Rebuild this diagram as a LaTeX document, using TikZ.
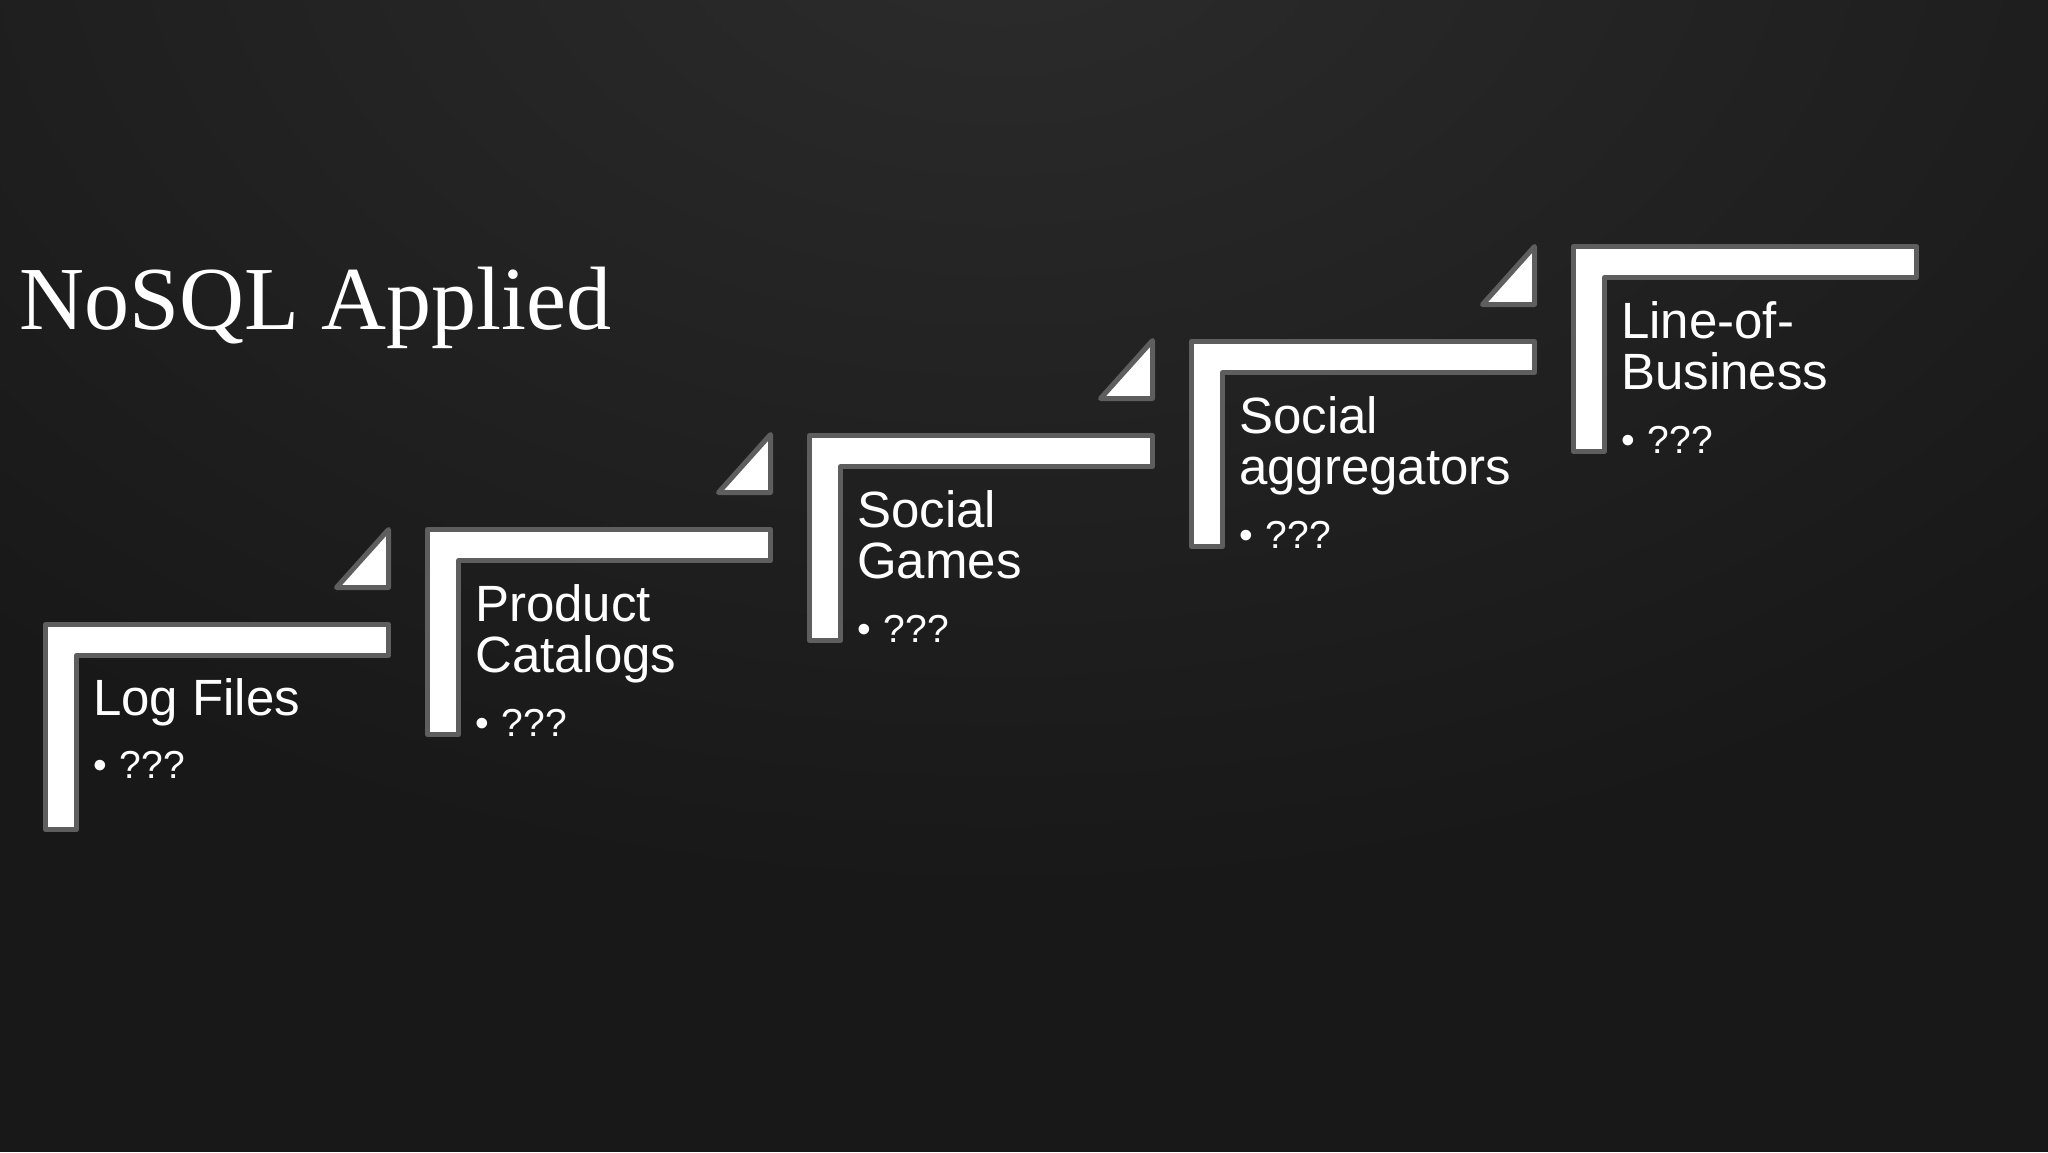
\documentclass[tikz,border=0pt]{standalone}
\usepackage{fontspec}
\setmainfont{Liberation Sans}
\newfontfamily\titlefont{Liberation Serif}
\definecolor{board}{HTML}{181818}
\definecolor{boardlight}{HTML}{2C2C2C}
\definecolor{edgegrey}{HTML}{5E5E5E}

\begin{document}
\begin{tikzpicture}[x=1pt,y=-1pt,
    stepbar/.style={fill=white,draw=edgegrey,line width=5pt,line join=round},
    steptext/.style={anchor=base west,inner sep=0pt,text=white,font=\fontsize{51}{53}\selectfont},
    bullettext/.style={anchor=base west,inner sep=0pt,text=white,font=\fontsize{39}{44}\selectfont}]
    \useasboundingbox (0,0) rectangle (2048,1152);
    \fill[board](0,0) rectangle (2048,1152);
    \begin{scope}
        \clip (0,0) rectangle (2048,1152);
        \shade[inner color=boardlight,outer color=board](1000,-100) ellipse (1500 and 1000);
    \end{scope}

    \node[anchor=base west,inner sep=0pt,text=white,font=\titlefont\fontsize{90}{96}\selectfont](title) at (19,329){NoSQL Applied};

    % steps
    \foreach \i/\X/\Y in {1/43/622, 2/425/527, 3/807/433, 4/1189/339, 5/1571/244}{
        \draw[stepbar](\X+2.5,\Y+2.5)--({\X+345.5},\Y+2.5)--({\X+345.5},\Y+33.5)--(\X+33.5,\Y+33.5)
            --(\X+33.5,{\Y+207.5})--(\X+2.5,{\Y+207.5})--cycle;
        \coordinate (s\i) at (\X,\Y);
    }
    % small triangles before each next step
    \foreach \X/\Y in {43/622, 425/527, 807/433, 1189/339}{
        \draw[stepbar]({\X+293.5},\Y-34.5)--({\X+345.5},\Y-92.5)--({\X+345.5},\Y-34.5)--cycle;
    }

    \node[steptext](log) at ([shift={(50,93)}]s1){Log Files};
    \node[bullettext](logq) at ([shift={(50,156)}]s1){•\hspace{13pt}???};

    \node[steptext](prodA) at ([shift={(50,94)}]s2){Product};
    \node[steptext](prodB) at ([shift={(50,145)}]s2){Catalogs};
    \node[bullettext](prodq) at ([shift={(50,209)}]s2){•\hspace{13pt}???};

    \node[steptext](gamesA) at ([shift={(50,94)}]s3){Social};
    \node[steptext](gamesB) at ([shift={(50,145)}]s3){Games};
    \node[bullettext](gamesq) at ([shift={(50,209)}]s3){•\hspace{13pt}???};

    \node[steptext](aggA) at ([shift={(50,94)}]s4){Social};
    \node[steptext](aggB) at ([shift={(50,145)}]s4){aggregators};
    \node[bullettext](aggq) at ([shift={(50,209)}]s4){•\hspace{13pt}???};

    \node[steptext](lobA) at ([shift={(50,94)}]s5){Line-of-};
    \node[steptext](lobB) at ([shift={(50,145)}]s5){Business};
    \node[bullettext](lobq) at ([shift={(50,209)}]s5){•\hspace{13pt}???};
\end{tikzpicture}
\end{document}
